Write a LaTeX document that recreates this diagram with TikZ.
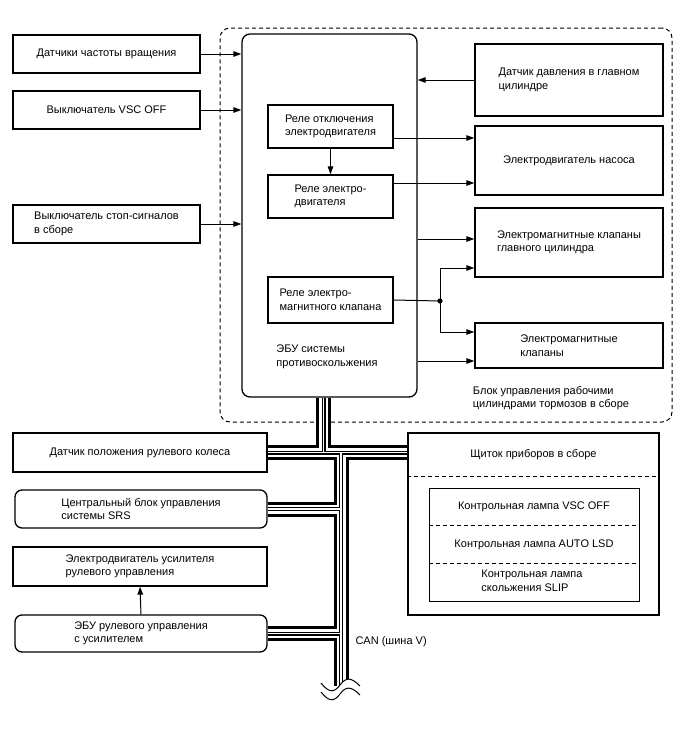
\documentclass[tikz,border=0pt]{standalone}
\usepackage{fontspec}
\setmainfont{Liberation Sans}
\usetikzlibrary{arrows.meta}

\begin{document}
\begin{tikzpicture}[x=1pt,y=-1pt,
  font=\fontsize{11}{13.5}\selectfont,
  box/.style={draw,line width=1.3pt,inner sep=0pt,align=left},
  rbox/.style={box,rounded corners=7pt},
  arr/.style={line width=1pt,-{Triangle[length=8pt,width=5.5pt]}},
  sep/.style={line width=1pt,dash pattern=on 4pt off 3pt},
  canbus/.style={line width=15pt,
    postaction={draw=white,line width=9pt},
    postaction={draw=black,line width=4pt},
    postaction={draw=white,line width=1.6pt}}]

\useasboundingbox (0,0) rectangle (688,755);

% Brake actuator assembly (dashed)
\node[sep,draw,rounded corners=10pt,minimum width=452pt,minimum height=394pt] (blk) at (446,225) {};
\node[align=left] (blklbl) at (551,398) {Блок управления рабочими\\цилиндрами тормозов в сборе};

% ECU with relays
\node[rbox,rounded corners=8pt,minimum width=175pt,minimum height=363pt] (ecu) at (329.5,215.5) {};
\node[align=left] (eculbl) at (327,357) {ЭБУ системы\\противоскольжения};
\node[box,minimum width=125pt,minimum height=43pt] (r1) at (330.5,126.5) {Реле отключения\\электродвигателя};
\node[box,minimum width=125pt,minimum height=43pt] (r2) at (330.5,196.5) {Реле электро-\\двигателя};
\node[box,minimum width=125pt,minimum height=46pt] (r3) at (330.5,300) {Реле электро-\\магнитного клапана};

% Inputs on the left
\node[box,minimum width=187pt,minimum height=38pt] (spd) at (106.5,54) {Датчики частоты вращения};
\node[box,minimum width=187pt,minimum height=38pt] (vsc) at (106.5,110) {Выключатель VSC OFF};
\node[box,minimum width=187pt,minimum height=38pt] (stp) at (106.5,224) {Выключатель стоп-сигналов\\в сборе};

% Actuator parts on the right
\node[box,minimum width=188pt,minimum height=72pt] (prs) at (569,80) {Датчик давления в главном\\цилиндре};
\node[box,minimum width=188pt,minimum height=69pt] (pmp) at (569,160.5) {Электродвигатель насоса};
\node[box,minimum width=188pt,minimum height=69pt] (mcv) at (569,242.5) {Электромагнитные клапаны\\главного цилиндра};
\node[box,minimum width=188pt,minimum height=45pt] (slv) at (569,345.5) {Электромагнитные\\клапаны};

% Arrows into the ECU
\draw[arr] (spd.east) -- (spd.east -| ecu.west);
\draw[arr] (vsc.east) -- (vsc.east -| ecu.west);
\draw[arr] (stp.east) -- (stp.east -| ecu.west);
\draw[arr] (prs.west) -- (prs.west -| ecu.east);

% Arrows out of the ECU
\draw[arr] (r1.south) -- (r2.north);
\coordinate (o1) at ([yshift=-11.5pt]r1.east);
\coordinate (o2) at ([yshift=13.5pt]r2.east);
\coordinate (o3) at ([yshift=3.5pt]mcv.west);
\coordinate (o4) at ([yshift=-15.5pt]slv.west);
\draw[arr] (o1) -- (o1 -| pmp.west);
\draw[arr] (o2) -- (o2 -| pmp.west);
\draw[arr] (o3 -| ecu.east) -- (o3);
\draw[arr] (o4 -| ecu.east) -- (o4);

% Solenoid relay branch
\coordinate (jn) at (440,301);
\draw[line width=1pt] (r3.east) -- (jn);
\draw[arr] (jn) |- ([yshift=-25.5pt]mcv.west);
\draw[arr] (jn) |- ([yshift=13.5pt]slv.west);
\fill (jn) circle (2.6pt);

% CAN nodes on the left
\node[box,minimum width=254pt,minimum height=39pt] (whl) at (140,452.5) {Датчик положения рулевого колеса};
\node[rbox,minimum width=252pt,minimum height=38pt] (srs) at (141,509) {Центральный блок управления\\системы SRS};
\node[box,minimum width=254pt,minimum height=39pt] (eps) at (140,566.5) {Электродвигатель усилителя\\рулевого управления};
\node[rbox,minimum width=252pt,minimum height=37pt] (epsecu) at (141,633.5) {ЭБУ рулевого управления\\с усилителем};
\draw[arr] (epsecu.north) -- (eps.south);

% Combination meter
\node[box,minimum width=251pt,minimum height=182pt] (met) at (533.5,524) {};
\node (metlbl) at (533.5,455) {Щиток приборов в сборе};
\draw[sep] ([yshift=-44pt]met.north west) -- ([yshift=-44pt]met.north east);
\node[box,line width=1pt,minimum width=210pt,minimum height=113pt] (lmp) at (534,544.5) {};
\draw[sep] ([yshift=-38pt]lmp.north west) -- ([yshift=-38pt]lmp.north east);
\draw[sep] ([yshift=-76pt]lmp.north west) -- ([yshift=-76pt]lmp.north east);
\node (lvsc) at (534,507) {Контрольная лампа VSC OFF};
\node (llsd) at (534,545) {Контрольная лампа AUTO LSD};
\node[align=left] (lslp) at (532,581) {Контрольная лампа\\скольжения SLIP};

% CAN bus
\coordinate (bA) at ([xshift=-6pt]ecu.south);
\coordinate (bB) at (bA |- whl.east);
\coordinate (bC) at (341,452.5);
\coordinate (bD) at (341,686);
\draw[canbus] (bA) -- (bB) (whl.east) -- (whl.east -| met.west)
  (bC) -- (bD) (srs.east) -- (srs.east -| bC) (epsecu.east) -- (epsecu.east -| bC);
\fill[white] (321,683) .. controls (329,693) and (334,693) .. (340,685)
  .. controls (346,677) and (351,677) .. (360,686) -- (360,702) -- (321,702) -- cycle;
\draw[line width=1pt] (321,683) .. controls (329,693) and (334,693) .. (340,685)
  .. controls (346,677) and (351,677) .. (360,686);
\draw[line width=1pt] (321,692) .. controls (329,702) and (334,702) .. (340,694)
  .. controls (346,686) and (351,686) .. (360,695);
\node[anchor=west] (canlbl) at (352,642) {CAN (шина V)};

\end{tikzpicture}
\end{document}
